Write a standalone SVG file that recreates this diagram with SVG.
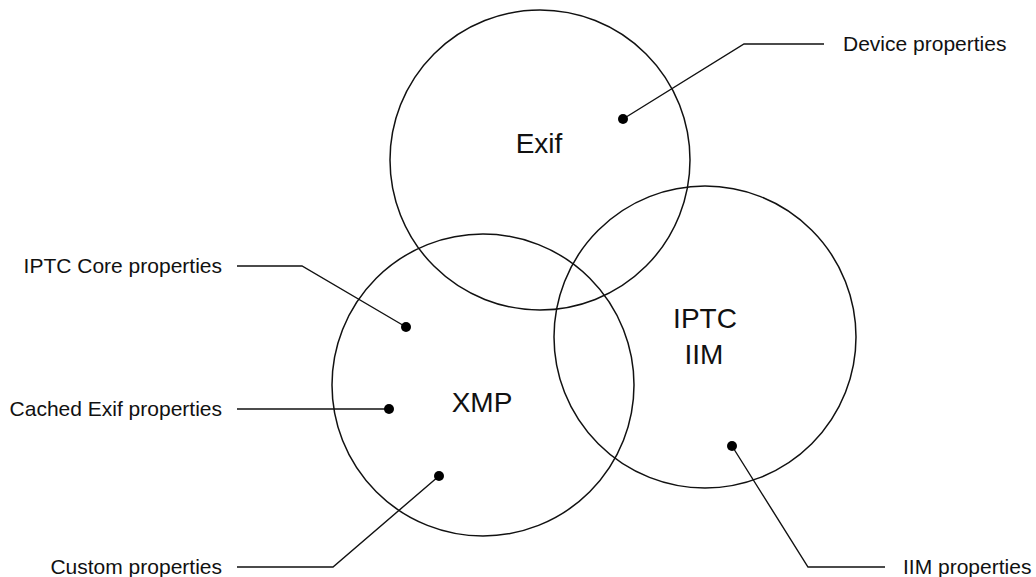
<svg xmlns="http://www.w3.org/2000/svg" width="1036" height="577" viewBox="0 0 1036 577">
  <style>
    .ring { fill: none; stroke: #111; stroke-width: 1.5; }
    .lead { fill: none; stroke: #111; stroke-width: 1.4; }
    .dot { fill: #000; }
    .name { font-family: "Liberation Sans", Arial, sans-serif; font-size: 28px; fill: #111; text-anchor: middle; }
    .label { font-family: "Liberation Sans", Arial, sans-serif; font-size: 21px; fill: #111; }
    .right { text-anchor: end; }
  </style>
  <rect width="1036" height="577" fill="#fff"/>

  <!-- metadata sets -->
  <g id="exif">
    <circle class="ring" cx="540" cy="160" r="150"/>
    <text class="name" x="539" y="153">Exif</text>
  </g>
  <g id="xmp">
    <circle class="ring" cx="483" cy="385" r="151"/>
    <text class="name" x="482" y="412">XMP</text>
  </g>
  <g id="iptc-iim">
    <circle class="ring" cx="705" cy="337" r="151"/>
    <text class="name" x="705" y="328">IPTC</text>
    <text class="name" x="704" y="364">IIM</text>
  </g>

  <!-- property callouts -->
  <g id="connectors">
    <polyline class="lead" points="824,44 744,44 623,119"/>
    <polyline class="lead" points="237,266 302,266 406,327"/>
    <polyline class="lead" points="237,409 389,409"/>
    <polyline class="lead" points="237,567 333,567 439,476"/>
    <polyline class="lead" points="885,567 808,567 732,446"/>
    <circle class="dot" cx="623" cy="119" r="5"/>
    <circle class="dot" cx="406" cy="327" r="5"/>
    <circle class="dot" cx="389" cy="409" r="5"/>
    <circle class="dot" cx="439" cy="476" r="5"/>
    <circle class="dot" cx="732" cy="446" r="5"/>
  </g>

  <g id="labels">
    <text class="label" x="843" y="51">Device properties</text>
    <text class="label right" x="222" y="273">IPTC Core properties</text>
    <text class="label right" x="222" y="416">Cached Exif properties</text>
    <text class="label right" x="222" y="574">Custom properties</text>
    <text class="label" x="903" y="574">IIM properties</text>
  </g>
</svg>
